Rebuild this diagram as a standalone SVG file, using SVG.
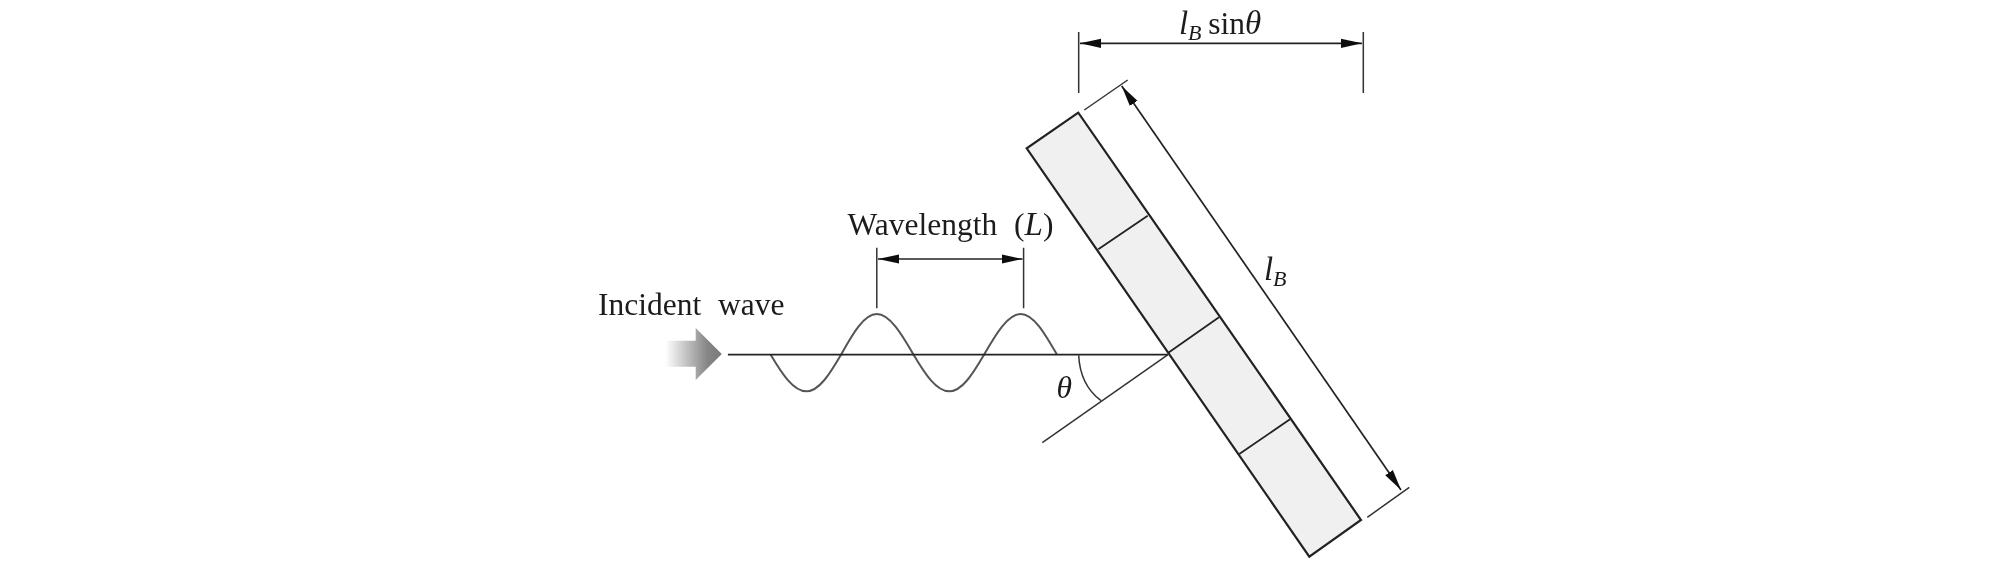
<svg xmlns="http://www.w3.org/2000/svg" width="2008" height="564" viewBox="0 0 2008 564">
<style>
text{font-family:"Liberation Serif","Times New Roman",serif;font-size:31.5px;fill:#1a1a1a}
.i{font-style:italic}
.s{font-size:22px}
.b{font-size:33px}
.l{fill:none;stroke:#222;stroke-width:1.8}
.t{fill:none;stroke:#333;stroke-width:1.5}
.d{fill:none;stroke:#222;stroke-width:1.7;marker-start:url(#ah);marker-end:url(#ah)}
.p{fill:#f0f0f0;stroke:#222;stroke-width:2.2}
</style>
<defs>
<marker id="ah" markerUnits="userSpaceOnUse" markerWidth="21" markerHeight="10" refX="21" refY="5" orient="auto-start-reverse"><path d="M0 0.4 L21 5 L0 9.6 Z" fill="#111"/></marker>
<linearGradient id="g" x1="665.4" x2="721.8" y1="0" y2="0" gradientUnits="userSpaceOnUse"><stop offset="0" stop-color="#fff"/><stop offset="0.75" stop-color="#858585"/><stop offset="1" stop-color="#7a7a7a"/></linearGradient>
<filter id="soft" x="0" y="0" width="100%" height="100%" filterUnits="userSpaceOnUse"><feGaussianBlur stdDeviation="0.4"/></filter>
</defs>
<g filter="url(#soft)">
<g id="plate">
<path class="p" d="M1078.3 112.7 L1026.7 148.3 L1309.3 556.7 L1361 520 Z"/>
<path class="l" d="M1147.7 215.7 L1098.3 249.3 M1219 317.3 L1168.3 352.7 M1290 419.3 L1239.3 454"/>
</g>
<g id="incident-arrow"><path d="M665.4 340.7 H695.7 V328 L721.8 354 L695.7 380 V366.7 H665.4 Z" fill="url(#g)"/></g>
<g id="wave"><path fill="none" stroke="#555" stroke-width="2" d="M770.7 354.7 C782.3 374.2 793.5 391.3 806.4 391.3 C819 391.3 829.7 374 841 354.7 C852.6 333.9 863.9 314 876.8 314 C889.7 314 901.6 333.9 913.6 354.7 C925.2 374.2 936.4 391.3 949.3 391.3 C962 391.3 972.7 374 984 354.7 C996 333.9 1007.8 314 1020.7 314 C1033.6 314 1045 333.9 1057 354.7"/></g>
<g id="connectors">
<path class="l" d="M727.9 354.7 H1168"/>
<path class="t" d="M1168 354.7 L1042.3 442.7"/>
<path class="t" d="M1078.7 355.3 Q1080 385 1101 400.7"/>
<path class="t" d="M876.8 247.7 V308.3 M1023.6 247.7 V308.3"/>
<path class="d" d="M878 259 H1022.5"/>
<path class="t" d="M1078.7 32 V93 M1363.3 32 V93"/>
<path class="d" d="M1080 43.3 H1362"/>
<path class="t" d="M1084.3 110 L1127.7 80 M1367.3 517.3 L1409.3 487.3"/>
<path class="d" d="M1121.7 86 L1401 490"/>
</g>
<g id="labels">
<text x="598" y="315" word-spacing="9">Incident wave</text>
<text x="847.5" y="235" word-spacing="9">Wavelength (<tspan class="i b">L</tspan>)</text>
<text class="i" x="1056.4" y="398">θ</text>
<text class="i b" x="1179" y="33.5">l</text><text class="i s" x="1188" y="39.5">B</text><text x="1208.3" y="33.5">sin<tspan class="i b">θ</tspan></text>
<text class="i b" x="1264" y="280">l</text><text class="i s" x="1273" y="286">B</text>
</g>
</g>
</svg>
